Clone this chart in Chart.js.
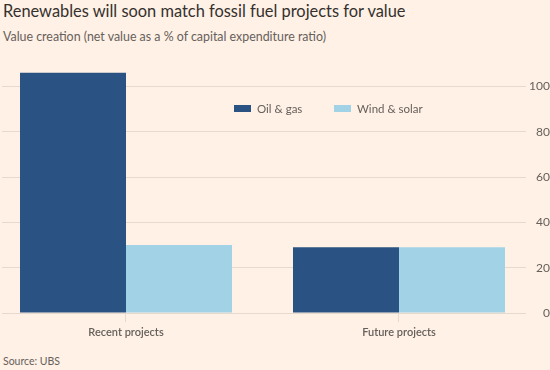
<!DOCTYPE html>
<html>
<head>
<meta charset="utf-8">
<script src="https://cdn.jsdelivr.net/npm/chart.js@4"></script>
<style>
    body { margin: 0; background: #fff1e5; font-family: Lato, sans-serif; }
    #page { position: relative; width: 550px; height: 370px; overflow: hidden; }
    #title { position: absolute; left: 3px; top: 1px; font-size: 16.4px; color: #33302e; white-space: nowrap; }
    #subtitle { position: absolute; left: 3px; top: 29px; font-size: 12.4px; color: #66605c; white-space: nowrap; }
    #source { position: absolute; left: 3px; top: 355px; font-size: 10.5px; color: #66605c; }
    #chart { position: absolute; left: 0; top: 50px; }
    .key { position: absolute; top: 101px; font-size: 11.5px; color: #66605c; white-space: nowrap; line-height: 15px; }
    .key span { display: inline-block; width: 17px; height: 7px; margin-right: 6px; vertical-align: 1px; }
</style>
</head>
<body>
<div id="page">
    <div id="title">Renewables will soon match fossil fuel projects for value</div>
    <div id="subtitle">Value creation (net value as a % of capital expenditure ratio)</div>
    <canvas id="chart" width="550" height="300"></canvas>
    <div class="key" id="key0" style="left:234px"></div>
    <div class="key" id="key1" style="left:334px"></div>
    <div id="source">Source: UBS</div>
</div>
<script>
    // values
    const categories = ['Recent projects', 'Future projects']
    const oilGas = [106, 29]
    const windSolar = [30, 29]
    const yTicks = [0, 20, 40, 60, 80, 100]

    const seriesNames = ['Oil & gas', 'Wind & solar']
    const seriesColors = ['#2a5383', '#a2d2e6']

    const gridColor = '#e6dacf'
    const textColor = '#66605c'

    // legend sits inside the plot, so it is plain html
    seriesNames.forEach((name, i) => {
        let key = document.getElementById('key' + i)
        key.innerHTML = `<span style="background:${seriesColors[i]}"></span>${name}`
    })

    function toPoints(values) {
        return values.map((v, i) => ({ x: i, y: v }))
    }

    new Chart(document.getElementById('chart'), {
        type: 'bar',
        data: {
            datasets: [
                { label: seriesNames[0], data: toPoints(oilGas), backgroundColor: seriesColors[0] },
                { label: seriesNames[1], data: toPoints(windSolar), backgroundColor: seriesColors[1] }
            ]
        },
        options: {
            responsive: false,
            animation: false,
            devicePixelRatio: 1,
            layout: { padding: { top: 13.7, left: 2, right: 0, bottom: 0 } },
            datasets: {
                bar: { barPercentage: 1, categoryPercentage: 0.7766 }
            },
            plugins: {
                legend: { display: false },
                tooltip: { enabled: false }
            },
            scales: {
                x: {
                    type: 'linear',
                    min: -0.4542,
                    max: 1.4652,
                    offset: false,
                    afterBuildTicks: scale => { scale.ticks = categories.map((c, i) => ({ value: i })) },
                    afterFit: scale => { scale.height = 37 },
                    grid: { offset: false, drawOnChartArea: false, color: gridColor, tickLength: 9 },
                    border: { display: false },
                    ticks: {
                        color: textColor,
                        font: { family: 'Lato', size: 11, weight: '600' },
                        padding: 4,
                        maxRotation: 0,
                        callback: v => categories[v]
                    }
                },
                y: {
                    position: 'right',
                    min: 0,
                    max: 110,
                    afterBuildTicks: scale => { scale.ticks = yTicks.map(v => ({ value: v })) },
                    afterFit: scale => { scale.width = 24 },
                    grid: { color: gridColor, drawTicks: false },
                    border: { display: false },
                    ticks: {
                        color: textColor,
                        font: { family: 'Lato', size: 12 },
                        padding: 3,
                        crossAlign: 'far'
                    }
                }
            }
        }
    })
</script>
</body>
</html>
